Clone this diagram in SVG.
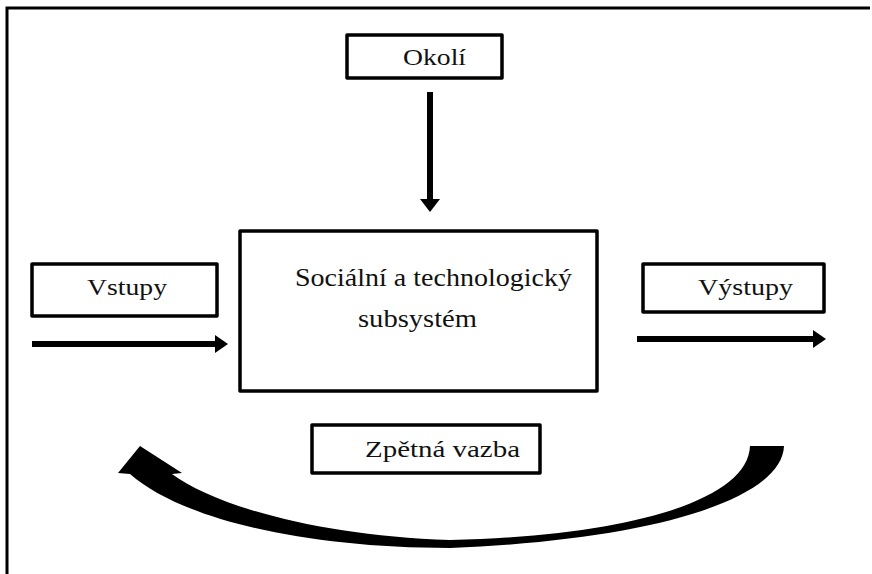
<svg xmlns="http://www.w3.org/2000/svg" width="872" height="574" viewBox="0 0 872 574">
  <style>
    .box { fill: #fff; stroke: #000; stroke-width: 3.5; stroke-linejoin: round; }
    .lbl { font-size: 24px; fill: #111; }
    .big { font-size: 26px; }
    .shaft { stroke: #000; stroke-width: 6; fill: none; }
    .head { fill: #000; }
  </style>
  <rect width="872" height="574" fill="#fff"/>
  <!-- outer frame -->
  <path d="M7,574 V8 H870" fill="none" stroke="#000" stroke-width="3"/>

  <g font-family="Liberation Serif, Times New Roman, serif">
    <g id="okoli">
      <rect class="box" x="347" y="35" width="155" height="43"/>
      <text class="lbl" x="403" y="65" textLength="63" lengthAdjust="spacingAndGlyphs">Okolí</text>
    </g>

    <g id="system">
      <rect class="box" x="240" y="231" width="357" height="160"/>
      <text class="lbl big" x="295" y="286" textLength="277" lengthAdjust="spacingAndGlyphs">Sociální a technologický</text>
      <text class="lbl big" x="358" y="327" textLength="119" lengthAdjust="spacingAndGlyphs">subsystém</text>
    </g>

    <g id="vstupy">
      <rect class="box" x="32" y="264" width="185" height="52"/>
      <text class="lbl" x="87" y="295" textLength="80" lengthAdjust="spacingAndGlyphs">Vstupy</text>
    </g>

    <g id="vystupy">
      <rect class="box" x="643" y="264" width="181" height="48"/>
      <text class="lbl" x="698" y="295" textLength="95" lengthAdjust="spacingAndGlyphs">Výstupy</text>
    </g>

    <g id="zpetna-vazba">
      <rect class="box" x="312" y="425" width="228" height="48"/>
      <text class="lbl" x="365" y="457" textLength="155" lengthAdjust="spacingAndGlyphs">Zpětná vazba</text>
    </g>
  </g>

  <g id="connectors">
    <!-- environment into system -->
    <line class="shaft" x1="430" y1="92" x2="430" y2="201"/>
    <polygon class="head" points="420,199 430,212 440,199"/>
    <!-- inputs -->
    <line class="shaft" x1="32" y1="344" x2="217" y2="344"/>
    <polygon class="head" points="215,335 228,344 215,353"/>
    <!-- outputs -->
    <line class="shaft" x1="637" y1="339" x2="815" y2="339"/>
    <polygon class="head" points="813,330 826,339 813,348"/>
    <!-- feedback loop -->
    <path class="head" d="M784,446 C782,500 650,540 450,548 C300,548 180,518 130,474 L118,473 L140,446 L182,473 L172,474 C215,506 320,536 450,540 C630,536 748,500 750,446 Z"/>
  </g>
</svg>
